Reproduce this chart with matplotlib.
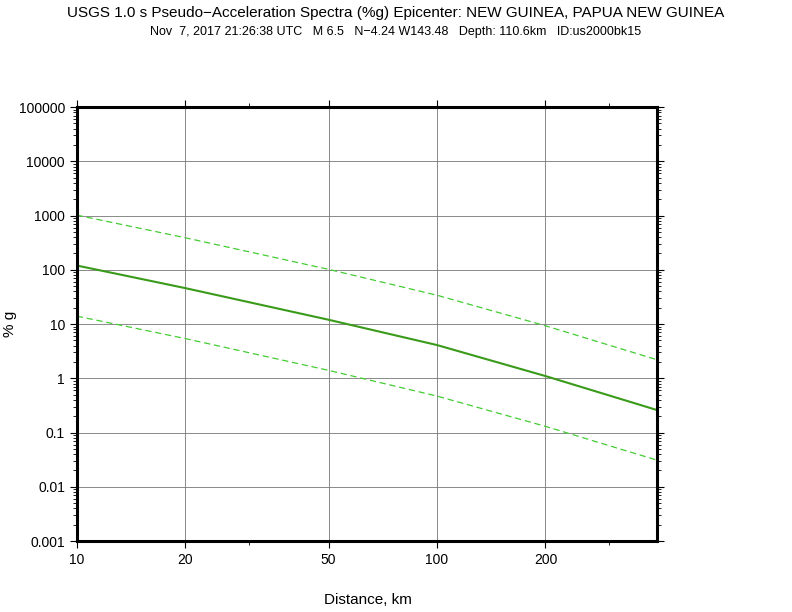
import matplotlib.pyplot as plt
from matplotlib.ticker import FixedLocator, FixedFormatter, LogLocator, NullFormatter

plt.rcParams.update({'font.family': 'Liberation Sans', 'font.size': 10})

# distances (km) and %g values
dist = [10, 20, 50, 100, 200, 408]
median = [120, 46, 12, 4.1, 1.1, 0.26]
upper = [1020, 390, 102, 34, 9.3, 2.2]
lower = [14, 5.4, 1.4, 0.47, 0.13, 0.031]

xticks = [10, 20, 50, 100, 200]
yticks = [0.001, 0.01, 0.1, 1, 10, 100, 1000, 10000, 100000]
ylabels = ['0.001', '0.01', '0.1', '1', '10', '100', '1000', '10000', '100000']

fig = plt.figure(figsize=(7.92, 6.12), dpi=100)
ax = fig.add_axes([0.097, 0.116, 0.7325, 0.709])
ax.set_xscale('log')
ax.set_yscale('log')
ax.plot(dist, median, color='#3a9a1a', lw=1.5)
ax.plot(dist, upper, color='#44cc33', lw=0.9, ls=(0, (5, 3)))
ax.plot(dist, lower, color='#44cc33', lw=0.9, ls=(0, (5, 3)))
ax.set_xlim(10, 408)
ax.set_ylim(0.001, 100000)

ax.xaxis.set_major_locator(FixedLocator(xticks))
ax.xaxis.set_major_formatter(FixedFormatter([str(t) for t in xticks]))
ax.xaxis.set_minor_locator(FixedLocator([30, 300]))
ax.xaxis.set_minor_formatter(NullFormatter())
ax.yaxis.set_major_locator(FixedLocator(yticks))
ax.yaxis.set_major_formatter(FixedFormatter(ylabels))
ax.yaxis.set_minor_locator(LogLocator(base=10, subs=range(2, 10), numticks=20))
ax.yaxis.set_minor_formatter(NullFormatter())
ax.tick_params(which='major', length=5, direction='out', right=True, top=True)
ax.tick_params(which='minor', length=3, direction='out', right=True, top=True)
ax.grid(True, which='major', color='#777777', lw=0.6)
for s in ax.spines.values():
    s.set_linewidth(2.2)

fig.text(0.465, 0.008, 'Distance, km', ha='center', va='bottom', fontsize=11)
fig.text(0.004, 0.47, '% g', ha='left', va='center', rotation=90, fontsize=11)
fig.text(0.5, 0.972, 'USGS 1.0 s Pseudo\u2212Acceleration Spectra (%g) Epicenter: NEW GUINEA, PAPUA NEW GUINEA',
         ha='center', fontsize=11)
fig.text(0.5, 0.943, 'Nov  7, 2017 21:26:38 UTC   M 6.5   N\u22124.24 W143.48   Depth: 110.6km   ID:us2000bk15',
         ha='center', fontsize=9)

fig.savefig('out.png', dpi=100)
